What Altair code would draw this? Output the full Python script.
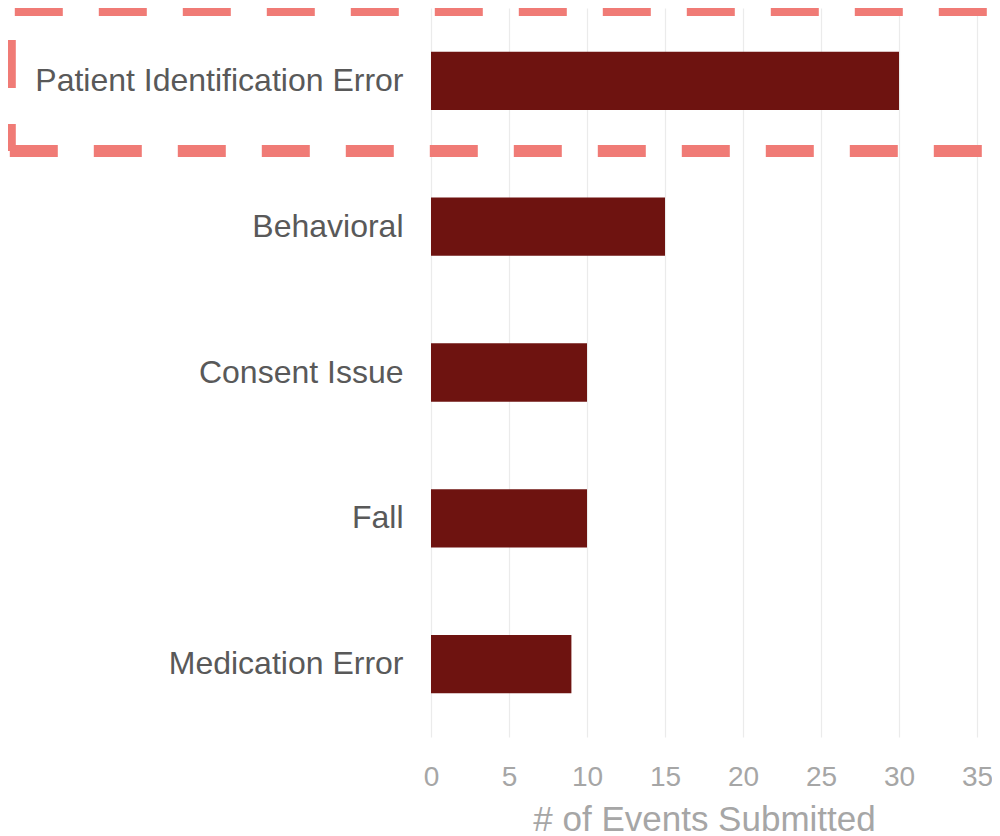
import altair as alt
import pandas as pd

categories = ["Patient Identification Error", "Behavioral", "Consent Issue", "Fall", "Medication Error"]
values = [30, 15, 10, 10, 9]
x_ticks = [0, 5, 10, 15, 20, 25, 30, 35]

# highlight box around the first category: left and right edges in x data units
box_x_start = [-27]
box_x_end = [37.5]

FONT = "Liberation Sans"
BOX_COLOR = "#f07b76"

bars_df = pd.DataFrame({"category": categories, "events": values})
box_df = pd.DataFrame({"x0": box_x_start, "x1": box_x_end})

x_scale = alt.Scale(domain=[0, 35], nice=False, zero=True)

x_axis = alt.Axis(
    title="# of Events Submitted",
    values=x_ticks,
    domain=False,
    ticks=False,
    grid=True,
    gridColor="#ebebeb",
    gridWidth=1.2,
    labelFont=FONT,
    labelFontSize=28,
    labelColor="#a6a6a6",
    labelPadding=26,
    labelFlush=False,
    titleFont=FONT,
    titleFontSize=35,
    titleFontWeight="normal",
    titleColor="#a6a6a6",
    titlePadding=11,
)

bars = alt.Chart(bars_df).mark_bar(color="#6e1310").encode(
    y=alt.Y(
        "category:N",
        sort=categories,
        scale=alt.Scale(paddingInner=0.6, paddingOuter=0.3),
        axis=alt.Axis(
            title=None,
            domain=False,
            ticks=False,
            labelFont=FONT,
            labelFontSize=32,
            labelColor="#595959",
            labelPadding=28,
            labelLimit=600,
            grid=False,
        ),
    ),
    x=alt.X("events:Q", scale=x_scale, axis=x_axis),
)

box_style = dict(stroke=BOX_COLOR, color=BOX_COLOR, strokeWidth=12, clip=False)

box_top = alt.Chart(box_df).mark_rule(strokeDash=[48, 36], strokeDashOffset=79, **box_style).encode(
    x=alt.X("x0:Q", scale=x_scale, axis=x_axis),
    x2="x1:Q",
    y=alt.value(2),
)
box_bottom = alt.Chart(box_df).mark_rule(strokeDash=[48, 36], strokeDashOffset=0, **box_style).encode(
    x=alt.X("x0:Q", scale=x_scale, axis=x_axis),
    x2="x1:Q",
    y=alt.value(143),
)
box_left = alt.Chart(box_df).mark_rule(strokeDash=[48, 36], strokeDashOffset=54, **box_style).encode(
    x=alt.X("x0:Q", scale=x_scale, axis=x_axis),
    y=alt.value(2),
    y2=alt.value(143),
)

chart = (
    alt.layer(bars, box_top, box_bottom, box_left)
    .properties(
        width=546,
        height=729,
        background="white",
        autosize=alt.AutoSizeParams(type="none"),
        padding={"left": 423, "top": 0, "right": 15, "bottom": 101},
    )
    .configure_view(strokeWidth=0)
)

chart.save("out.html", embed_options={"renderer": "svg", "actions": False})
